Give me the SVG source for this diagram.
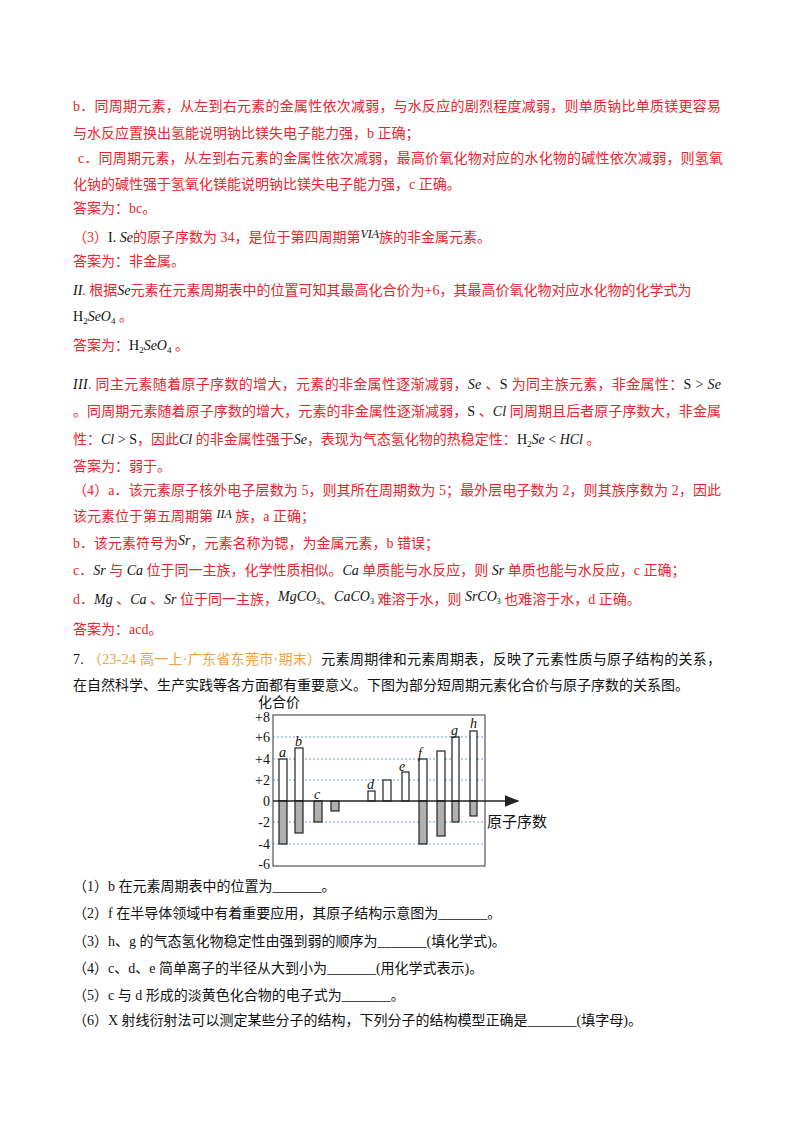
<svg xmlns="http://www.w3.org/2000/svg" width="800" height="1132" viewBox="0 0 800 1132">
<style>
text{font-family:"Liberation Serif","Noto Sans CJK SC",serif;font-size:14px}
.r{fill:#e8262d}
.k{fill:#111}
.o{fill:#f0a040}
.i{font-style:italic}
.grid{stroke:#3d8fe0;stroke-width:0.8;stroke-dasharray:2 2}
.pos{fill:#fff;stroke:#222;stroke-width:1.2}
.neg{fill:#b0b0b0;stroke:#222;stroke-width:1.2}
.ax{font-size:15px}
</style>
<defs><marker id="arr" markerWidth="10" markerHeight="8" refX="9" refY="4" orient="auto"><path d="M0,0 L10,4 L0,8 z" fill="#222"/></marker></defs>
<rect width="800" height="1132" fill="#fff"/>
<g id="text">
<text class="r" x="73" y="111" textLength="648">b．同周期元素，从左到右元素的金属性依次减弱，与水反应的剧烈程度减弱，则单质钠比单质镁更容易</text>
<text class="r" x="73" y="138">与水反应置换出氢能说明钠比镁失电子能力强，b 正确；</text>
<text class="r" x="78" y="163" textLength="645">c．同周期元素，从左到右元素的金属性依次减弱，最高价氧化物对应的水化物的碱性依次减弱，则氢氧</text>
<text class="r" x="73" y="189">化钠的碱性强于氢氧化镁能说明钠比镁失电子能力强，c 正确。</text>
<text class="r" x="73" y="213">答案为：bc。</text>
<text class="r" x="73" y="242">（3）<tspan class="k">I.</tspan>  <tspan class="k i">Se</tspan>的原子序数为 34，是位于第四周期第<tspan class="k i" font-size="12" dy="-4">VIA</tspan><tspan dy="4">族的非金属元素。</tspan></text>
<text class="r" x="73" y="266">答案为：非金属。</text>
<text class="r" x="73" y="295"><tspan class="k i">II</tspan>. 根据<tspan class="k i">Se</tspan>元素在元素周期表中的位置可知其最高化合价为+6，其最高价氧化物对应水化物的化学式为</text>
<text class="k" x="73" y="321">H<tspan font-size="9" dy="3">2</tspan><tspan class="i" dy="-3">SeO</tspan><tspan font-size="9" dy="3">4</tspan><tspan class="r" dy="-3"> 。</tspan></text>
<text class="r" x="73" y="350">答案为：<tspan class="k">H</tspan><tspan class="k" font-size="9" dy="3">2</tspan><tspan class="k i" dy="-3">SeO</tspan><tspan class="k" font-size="9" dy="3">4</tspan><tspan dy="-3"> 。</tspan></text>
<text class="r" x="73" y="389" textLength="648"><tspan class="k i">III</tspan>. 同主元素随着原子序数的增大，元素的非金属性逐渐减弱，<tspan class="k i">Se</tspan> 、<tspan class="k">S</tspan> 为同主族元素，非金属性：<tspan class="k">S &gt; </tspan><tspan class="k i">Se</tspan></text>
<text class="r" x="73" y="416" textLength="648">。同周期元素随着原子序数的增大，元素的非金属性逐渐减弱，<tspan class="k">S</tspan> 、<tspan class="k i">Cl</tspan> 同周期且后者原子序数大，非金属</text>
<text class="r" x="73" y="444">性：<tspan class="k i">Cl</tspan><tspan class="k"> &gt; S</tspan>，因此<tspan class="k i">Cl</tspan> 的非金属性强于<tspan class="k i">Se</tspan>，表现为气态氢化物的热稳定性：<tspan class="k">H</tspan><tspan class="k" font-size="9" dy="3">2</tspan><tspan class="k i" dy="-3">Se</tspan><tspan class="k"> &lt; </tspan><tspan class="k i">HCl</tspan> 。</text>
<text class="r" x="73" y="471">答案为：弱于。</text>
<text class="r" x="73" y="495" textLength="648">（4）a．该元素原子核外电子层数为 5，则其所在周期数为 5；最外层电子数为 2，则其族序数为 2，因此</text>
<text class="r" x="73" y="521">该元素位于第五周期第 <tspan class="k i" font-size="12" dy="-3">IIA</tspan><tspan dy="3"> 族，a 正确；</tspan></text>
<text class="r" x="73" y="548">b．该元素符号为<tspan class="k i" dy="-3">Sr</tspan><tspan dy="3">，元素名称为锶，为金属元素，b 错误；</tspan></text>
<text class="r" x="73" y="575">c．<tspan class="k i">Sr</tspan> 与 <tspan class="k i">Ca</tspan> 位于同一主族，化学性质相似。<tspan class="k i">Ca</tspan> 单质能与水反应，则 <tspan class="k i">Sr</tspan> 单质也能与水反应，c 正确；</text>
<text class="r" x="73" y="604">d．<tspan class="k i">Mg</tspan> 、<tspan class="k i">Ca</tspan> 、<tspan class="k i">Sr</tspan> 位于同一主族，<tspan class="k i" dy="-3">MgCO</tspan><tspan class="k" font-size="8" dy="3">3</tspan>、<tspan class="k i" dy="-3">CaCO</tspan><tspan class="k" font-size="8" dy="3">3</tspan> 难溶于水，则 <tspan class="k i" dy="-3">SrCO</tspan><tspan class="k" font-size="8" dy="3">3</tspan> 也难溶于水，d 正确。</text>
<text class="r" x="73" y="634">答案为：acd。</text>
<text class="k" x="73" y="664" textLength="648">7.  <tspan class="o">（23-24 高一上·广东省东莞市·期末）</tspan>元素周期律和元素周期表，反映了元素性质与原子结构的关系，</text>
<text class="k" x="73" y="690">在自然科学、生产实践等各方面都有重要意义。下图为部分短周期元素化合价与原子序数的关系图。</text>
<text class="k" x="73" y="891">（1）b 在元素周期表中的位置为_______。</text>
<text class="k" x="73" y="918">（2）f 在半导体领域中有着重要应用，其原子结构示意图为_______。</text>
<text class="k" x="73" y="946">（3）h、g 的气态氢化物稳定性由强到弱的顺序为_______(填化学式)。</text>
<text class="k" x="73" y="973">（4）c、d、e 简单离子的半径从大到小为_______(用化学式表示)。</text>
<text class="k" x="73" y="1000">（5）c 与 d 形成的淡黄色化合物的电子式为_______。</text>
<text class="k" x="73" y="1025">（6）X 射线衍射法可以测定某些分子的结构，下列分子的结构模型正确是_______(填字母)。</text>
</g>
<g id="chart">
<rect x="273" y="715" width="212" height="151" fill="none" stroke="#333" stroke-width="1"/>
<g class="grid">
<line x1="273" y1="737" x2="485" y2="737"/><line x1="273" y1="759" x2="485" y2="759"/>
<line x1="273" y1="780" x2="485" y2="780"/><line x1="273" y1="822" x2="485" y2="822"/>
<line x1="273" y1="844" x2="485" y2="844"/>
</g>
<g class="ax k" text-anchor="end">
<text x="270" y="722">+8</text><text x="270" y="742">+6</text><text x="270" y="764">+4</text>
<text x="270" y="785">+2</text><text x="270" y="806">0</text><text x="270" y="827">-2</text>
<text x="270" y="849">-4</text><text x="270" y="869">-6</text>
</g>
<text class="k" x="258" y="707">化合价</text>
<text class="k ax" x="487" y="827">原子序数</text>
<g id="bars">
<rect class="pos" x="279" y="759" width="8" height="42"/><rect class="neg" x="279" y="801" width="8" height="43"/>
<rect class="pos" x="295" y="748" width="8" height="53"/><rect class="neg" x="295" y="801" width="8" height="32"/>
<rect class="neg" x="314" y="801" width="8" height="21"/>
<rect class="neg" x="331" y="801" width="8" height="10"/>
<rect class="pos" x="368" y="791" width="7" height="10"/>
<rect class="pos" x="383" y="780" width="8" height="21"/>
<rect class="pos" x="402" y="772" width="7" height="29"/>
<rect class="pos" x="419" y="759" width="8" height="42"/><rect class="neg" x="419" y="801" width="8" height="43"/>
<rect class="pos" x="437" y="751" width="8" height="50"/><rect class="neg" x="437" y="801" width="8" height="35"/>
<rect class="pos" x="452" y="737" width="7" height="64"/><rect class="neg" x="452" y="801" width="7" height="21"/>
<rect class="pos" x="470" y="731" width="7" height="70"/><rect class="neg" x="470" y="801" width="7" height="15"/>
</g>
<g class="k i ax">
<text x="279" y="757">a</text><text x="295" y="746">b</text><text x="314" y="799">c</text>
<text x="367" y="789">d</text><text x="399" y="771">e</text><text x="418" y="758">f</text>
<text x="451" y="735">g</text><text x="470" y="728">h</text>
</g>
</g>
<g id="connectors">
<line x1="273" y1="801" x2="518" y2="801" stroke="#222" stroke-width="1.5" marker-end="url(#arr)"/>
</g>
</svg>
